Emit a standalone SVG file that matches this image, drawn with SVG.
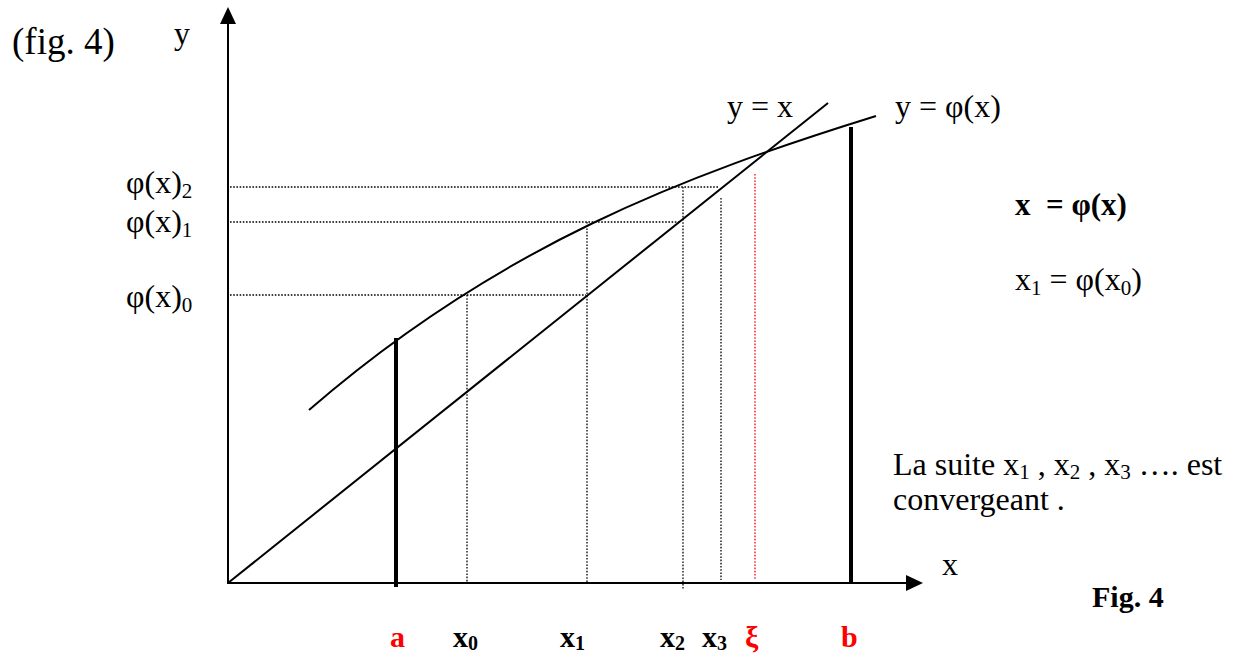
<svg xmlns="http://www.w3.org/2000/svg" width="1236" height="655" viewBox="0 0 1236 655">
<style>
text{font-family:"Liberation Serif","Times New Roman",serif;fill:#000;font-size:32px;white-space:pre}
.b{font-weight:bold}
.red{fill:#f00}
.sub{font-size:21px}
.bsub{font-size:20px}
.ax{stroke:#000;stroke-width:2;fill:none}
.ln{stroke:#000;stroke-width:2;fill:none}
.dot{stroke:#000;stroke-width:1.3;stroke-dasharray:1.6 1.6;fill:none}
.dotr{stroke:#f00;stroke-width:1.3;stroke-dasharray:1.6 1.6;fill:none}
.thick{stroke:#000;stroke-width:4}
</style>
<rect width="1236" height="655" fill="#fff"/>
<g id="axes">
<line class="ax" x1="228" y1="584" x2="228" y2="20"/>
<polygon points="228,7 220,24 236,24" fill="#000"/>
<line class="ax" x1="227" y1="583" x2="910" y2="583"/>
<polygon points="923,583 906,575 906,591" fill="#000"/>
</g>
<g id="connectors">
<line class="ln" x1="228" y1="583" x2="828" y2="103"/>
<path class="ln" d="M309,410 C499,245 686,175 876,116"/>
<line class="dot" x1="230" y1="295" x2="586" y2="295"/>
<line class="dot" x1="230" y1="222" x2="681" y2="222"/>
<line class="dot" x1="230" y1="187" x2="718" y2="187"/>
<line class="dot" x1="467" y1="295" x2="467" y2="582"/>
<line class="dot" x1="587" y1="222" x2="587" y2="582"/>
<line class="dot" x1="683" y1="187" x2="683" y2="589"/>
<line class="dot" x1="721" y1="198" x2="721" y2="580"/>
<line class="dotr" x1="755" y1="174" x2="755" y2="580"/>
<line class="thick" x1="396" y1="338" x2="396" y2="587"/>
<line class="thick" x1="851" y1="127" x2="851" y2="583"/>
</g>
<g id="labels">
<text x="12" y="54" style="font-size:37px">(fig. 4)</text>
<text x="174" y="44">y</text>
<text x="126" y="193">φ(x)<tspan class="sub" dy="5">2</tspan></text>
<text x="126" y="232">φ(x)<tspan class="sub" dy="5">1</tspan></text>
<text x="126" y="307">φ(x)<tspan class="sub" dy="5">0</tspan></text>
<text x="727" y="117">y = x</text>
<text x="895" y="117">y = φ(x)</text>
<text x="1015" y="215" class="b" style="font-size:31px">x  = φ(x)</text>
<text x="1015" y="290">x<tspan class="sub" dy="5">1</tspan><tspan dy="-5"> = φ(x</tspan><tspan class="sub" dy="5">0</tspan><tspan dy="-5">)</tspan></text>
<text x="893" y="475">La suite x<tspan class="sub" dy="4">1</tspan><tspan dy="-4"> , x</tspan><tspan class="sub" dy="4">2</tspan><tspan dy="-4"> , x</tspan><tspan class="sub" dy="4">3</tspan><tspan dy="-4"> …. est</tspan></text>
<text x="893" y="510">convergeant .</text>
<text x="942" y="575">x</text>
<text x="1092" y="607" class="b" style="font-size:30px">Fig. 4</text>
<text x="390" y="647" class="b red" style="font-size:30px">a</text>
<text x="453" y="647" class="b" style="font-size:30px">x<tspan class="bsub" dy="3">0</tspan></text>
<text x="560" y="647" class="b" style="font-size:30px">x<tspan class="bsub" dy="3">1</tspan></text>
<text x="660" y="647" class="b" style="font-size:30px">x<tspan class="bsub" dy="3">2</tspan></text>
<text x="702" y="647" class="b" style="font-size:30px">x<tspan class="bsub" dy="3">3</tspan></text>
<text x="745" y="647" class="b red" style="font-size:30px">ξ</text>
<text x="841" y="647" class="b red" style="font-size:30px">b</text>
</g>
</svg>
